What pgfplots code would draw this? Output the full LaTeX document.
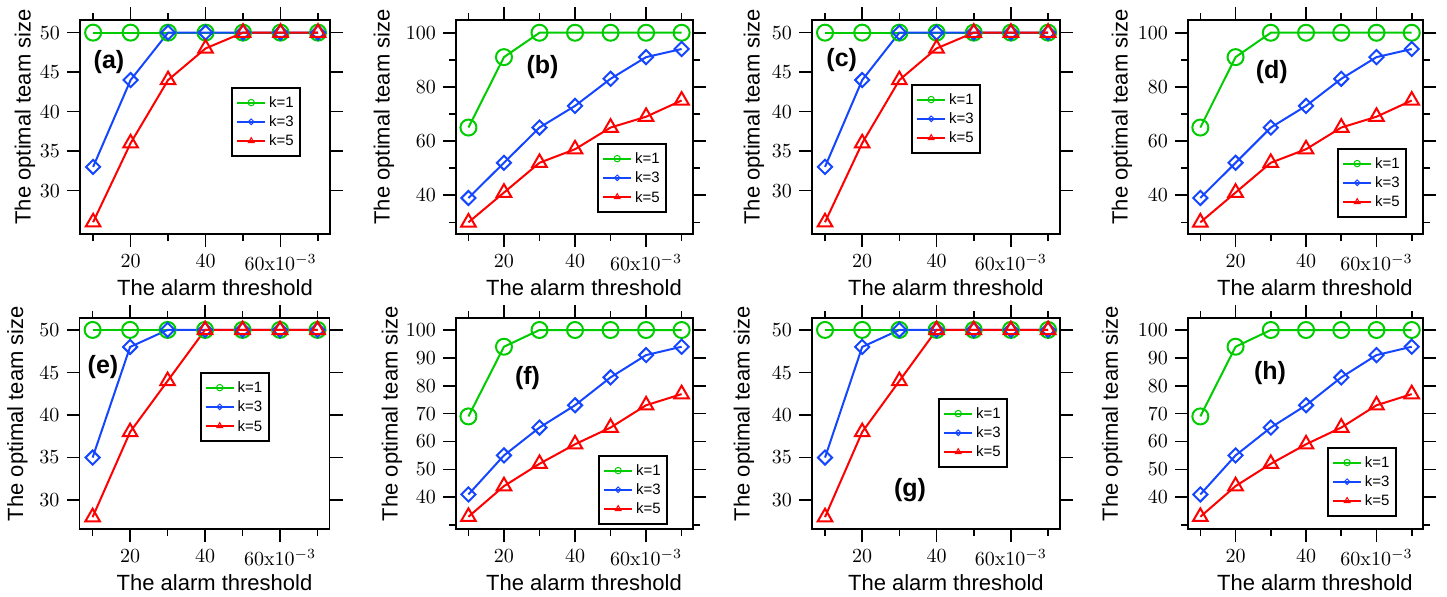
\documentclass[border=0pt]{standalone}
\usepackage{pgfplots}
\pgfplotsset{compat=1.18}
\usepackage[no-math]{fontspec}
\setmainfont{Liberation Sans}
\definecolor{kgreen}{RGB}{0,204,0}
\definecolor{kblue}{RGB}{20,70,255}
\definecolor{kred}{RGB}{255,0,0}
\pgfplotsset{
  panel/.style={
    scale only axis,
    axis line style={line width=0.8pt},
    tick style={line width=0.8pt, black},
    tick align=outside,
    major tick length=6.5pt, minor tick length=3.5pt,
    xmin=6.5, xmax=73.2,
    xtick={20,40,60}, minor xtick={10,30,50,70},
    xticklabels={20,40,{60x10$^{-3}$}},
    /pgf/number format/assume math mode=true,
    ticklabel style={font=\fontfamily{lmr}\fontsize{10}{12}\selectfont},
    xlabel={The alarm threshold}, ylabel={The optimal team size},
    label style={font=\fontsize{11}{13}\selectfont},
    legend style={draw=black, line width=1pt, anchor=north west,
      font=\fontsize{7.5}{9}\selectfont, inner xsep=2pt, inner ysep=2.5pt,
      nodes={inner sep=1.3pt, text height=6pt, text depth=1pt}},
    legend cell align=left,
    legend image code/.code={\draw[mark repeat=2,mark phase=2,##1,every mark/.append style={scale=0.4, line width=0.5pt}] plot coordinates {(0cm,0cm)(0.25cm,0cm)(0.5cm,0cm)};},
  },
  yl/.style={ylabel style={at={(axis description cs:-#1,0.547)}, anchor=center}},
  xl/.style={xlabel style={at={(axis description cs:0.54,-#1)}, anchor=center}},
  lg/.style 2 args={legend style={at={(axis description cs:#1,#2)}}},
  k1/.style={color=kgreen, line width=1pt, mark=o, mark size=4pt, mark options={solid, line width=1pt}},
  k3/.style={color=kblue, line width=1pt, mark=square, mark size=2.5pt, mark options={solid, line width=1pt, rotate=45}},
  k5/.style={color=kred, line width=1pt, mark=triangle, mark size=4.2pt, mark options={solid, line width=1pt}},
  smallpanel/.style={ymin=24.5, ymax=51.6, ytick={30,35,40,45,50}},
  bigpanel/.style={ymin=25.7, ymax=104.7, ytick={40,60,80,100}, minor ytick={30,50,70,90}},
  smallpanelB/.style={ymin=26.6, ymax=51.4, ytick={30,35,40,45,50}},
  bigpanelB/.style={ymin=28.6, ymax=104.3, ytick={40,50,60,70,80,90,100}, minor ytick={30}},
}
\begin{document}
\begin{tikzpicture}
\useasboundingbox (0,0) rectangle (723.5pt,-298pt);
% (a)
\begin{axis}[panel, smallpanel, at={(40pt,-117pt)}, anchor=south west, width=125pt, height=107pt,
  yl=0.22, xl=0.252, lg={0.604}{0.687}]
\addplot[k1] coordinates {(10,50)(20,50)(30,50)(40,50)(50,50)(60,50)(70,50)};
\addplot[k3] coordinates {(10,33)(20,44)(30,50)(40,50)(50,50)(60,50)(70,50)};
\addplot[k5] coordinates {(10,26)(20,36)(30,44)(40,48)(50,50)(60,50)(70,50)};
\legend{k=1,k=3,k=5}
\end{axis}
% (b)
\begin{axis}[panel, bigpanel, at={(228pt,-117pt)}, anchor=south west, width=118.5pt, height=107pt,
  yl=0.304, xl=0.252, lg={0.595}{0.425}]
\addplot[k1] coordinates {(10,65)(20,91)(30,100)(40,100)(50,100)(60,100)(70,100)};
\addplot[k3] coordinates {(10,39)(20,52)(30,65)(40,73)(50,83)(60,91)(70,94)};
\addplot[k5] coordinates {(10,30)(20,41)(30,52)(40,57)(50,65)(60,69)(70,75)};
\legend{k=1,k=3,k=5}
\end{axis}
% (c)
\begin{axis}[panel, smallpanel, at={(406pt,-117pt)}, anchor=south west, width=124pt, height=107pt,
  yl=0.234, xl=0.252, lg={0.399}{0.701}]
\addplot[k1] coordinates {(10,50)(20,50)(30,50)(40,50)(50,50)(60,50)(70,50)};
\addplot[k3] coordinates {(10,33)(20,44)(30,50)(40,50)(50,50)(60,50)(70,50)};
\addplot[k5] coordinates {(10,26)(20,36)(30,44)(40,48)(50,50)(60,50)(70,50)};
\legend{k=1,k=3,k=5}
\end{axis}
% (d)
\begin{axis}[panel, bigpanel, at={(594pt,-117pt)}, anchor=south west, width=117.5pt, height=107pt,
  yl=0.281, xl=0.252, lg={0.634}{0.402}]
\addplot[k1] coordinates {(10,65)(20,91)(30,100)(40,100)(50,100)(60,100)(70,100)};
\addplot[k3] coordinates {(10,39)(20,52)(30,65)(40,73)(50,83)(60,91)(70,94)};
\addplot[k5] coordinates {(10,30)(20,41)(30,52)(40,57)(50,65)(60,69)(70,75)};
\legend{k=1,k=3,k=5}
\end{axis}
% (e)
\begin{axis}[panel, smallpanelB, at={(39.75pt,-264.5pt)}, anchor=south west, width=125pt, height=105.5pt,
  yl=0.248, xl=0.256, lg={0.48}{0.744}]
\addplot[k1] coordinates {(10,50)(20,50)(30,50)(40,50)(50,50)(60,50)(70,50)};
\addplot[k3] coordinates {(10,35)(20,48)(30,50)(40,50)(50,50)(60,50)(70,50)};
\addplot[k5] coordinates {(10,28)(20,38)(30,44)(40,50)(50,50)(60,50)(70,50)};
\legend{k=1,k=3,k=5}
\end{axis}
% (f)
\begin{axis}[panel, bigpanelB, at={(228pt,-264.5pt)}, anchor=south west, width=118.5pt, height=105.5pt,
  yl=0.27, xl=0.256, lg={0.599}{0.351}]
\addplot[k1] coordinates {(10,69)(20,94)(30,100)(40,100)(50,100)(60,100)(70,100)};
\addplot[k3] coordinates {(10,41)(20,55)(30,65)(40,73)(50,83)(60,91)(70,94)};
\addplot[k5] coordinates {(10,33)(20,44)(30,52)(40,59)(50,65)(60,73)(70,77)};
\legend{k=1,k=3,k=5}
\end{axis}
% (g)
\begin{axis}[panel, smallpanelB, at={(406pt,-264.5pt)}, anchor=south west, width=124pt, height=105.5pt,
  yl=0.274, xl=0.256, lg={0.508}{0.621}]
\addplot[k1] coordinates {(10,50)(20,50)(30,50)(40,50)(50,50)(60,50)(70,50)};
\addplot[k3] coordinates {(10,35)(20,48)(30,50)(40,50)(50,50)(60,50)(70,50)};
\addplot[k5] coordinates {(10,28)(20,38)(30,44)(40,50)(50,50)(60,50)(70,50)};
\legend{k=1,k=3,k=5}
\end{axis}
% (h)
\begin{axis}[panel, bigpanelB, at={(594pt,-264.5pt)}, anchor=south west, width=117.5pt, height=105.5pt,
  yl=0.323, xl=0.256, lg={0.591}{0.389}]
\addplot[k1] coordinates {(10,69)(20,94)(30,100)(40,100)(50,100)(60,100)(70,100)};
\addplot[k3] coordinates {(10,41)(20,55)(30,65)(40,73)(50,83)(60,91)(70,94)};
\addplot[k5] coordinates {(10,33)(20,44)(30,52)(40,59)(50,65)(60,73)(70,77)};
\legend{k=1,k=3,k=5}
\end{axis}
% panel letters
\begin{scope}[every node/.style={font=\fontsize{12.5}{14}\selectfont\bfseries, inner sep=0pt}]
\node at (54.5pt,-31pt) {(a)};
\node at (271.25pt,-33.5pt) {(b)};
\node at (420.85pt,-30pt) {(c)};
\node at (635.85pt,-36pt) {(d)};
\node at (51.5pt,-183.5pt) {(e)};
\node at (263.75pt,-189pt) {(f)};
\node at (455pt,-245pt) {(g)};
\node at (635pt,-186.5pt) {(h)};
\end{scope}
\end{tikzpicture}
\end{document}
